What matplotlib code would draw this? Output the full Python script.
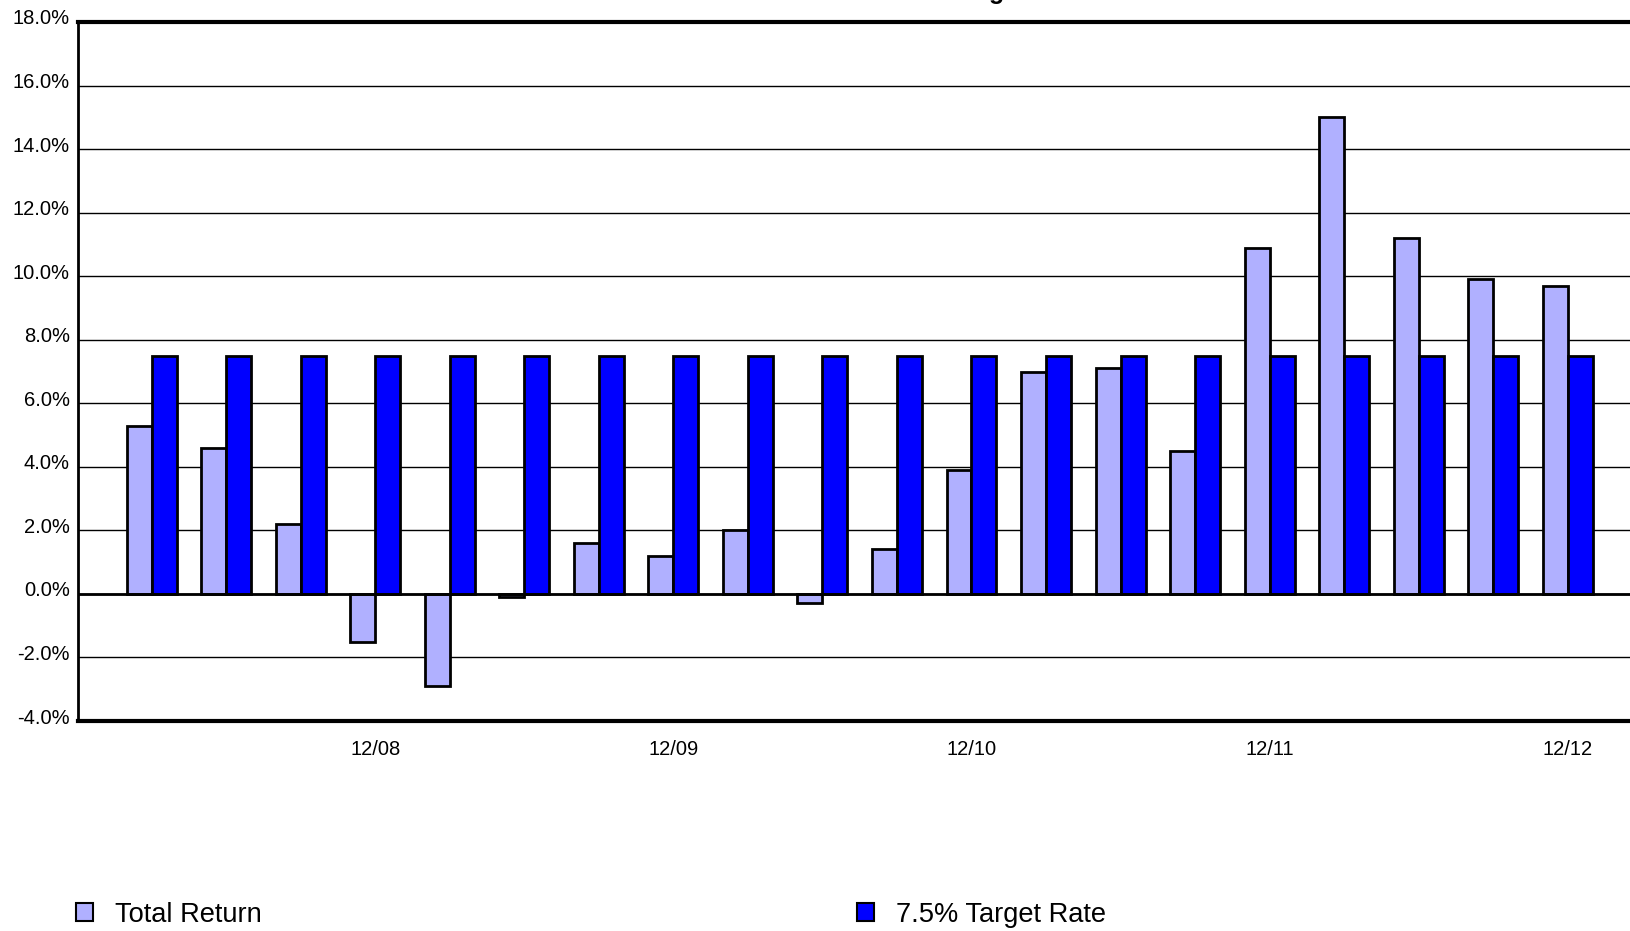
import numpy as np
import matplotlib.pyplot as plt
import matplotlib.transforms as mtransforms
from matplotlib.patches import Patch
from matplotlib.ticker import FuncFormatter, FixedLocator

plt.rcParams['font.family'] = ['Liberation Sans', 'DejaVu Sans']

# Quarterly periods, 3/08 through 12/12
quarters = ['3/08', '6/08', '9/08', '12/08', '3/09', '6/09', '9/09', '12/09',
            '3/10', '6/10', '9/10', '12/10', '3/11', '6/11', '9/11', '12/11',
            '3/12', '6/12', '9/12', '12/12']
total_return = [5.3, 4.6, 2.2, -1.5, -2.9, -0.1, 1.6, 1.2, 2.0, -0.3,
                1.4, 3.9, 7.0, 7.1, 4.5, 10.9, 15.0, 11.2, 9.9, 9.7]
target_rate = [7.5] * len(quarters)
labeled = ['12/08', '12/09', '12/10', '12/11', '12/12']

light = '#B0B0FF'
dark = '#0000FF'

fig = plt.figure(figsize=(16.31, 9.31), dpi=100)
ax = fig.add_axes([78 / 1631, 210 / 931, 1 - 78 / 1631, 699 / 931])

x = np.arange(len(quarters))
w = 0.335
ax.bar(x - w / 2, total_return, w, color=light, edgecolor='black', linewidth=2, zorder=3)
ax.bar(x + w / 2, target_rate, w, color=dark, edgecolor='black', linewidth=2, zorder=3)

ax.set_xlim(-0.99, 19.85)
ax.set_ylim(-4, 18)
ax.set_yticks(np.arange(-4, 18.1, 2))
ax.yaxis.set_major_formatter(FuncFormatter(lambda v, p: f'{v:.1f}%'))
ax.grid(axis='y', color='black', linewidth=1, zorder=1)
ax.axhline(0, color='black', linewidth=2, zorder=4)

ticks = [quarters.index(q) for q in labeled]
ax.xaxis.set_major_locator(FixedLocator(ticks))
ax.set_xticklabels(labeled)
ax.tick_params(axis='both', length=0, labelsize=14.5)
ax.tick_params(axis='x', pad=14)
ax.tick_params(axis='y', pad=6)

# nudge the y labels up so they sit on their gridlines
shift = mtransforms.ScaledTranslation(0, 5 / 100, fig.dpi_scale_trans)
for lbl in ax.get_yticklabels():
    lbl.set_transform(lbl.get_transform() + shift)

ax.spines['right'].set_visible(False)
ax.spines['top'].set_linewidth(3)
ax.spines['bottom'].set_linewidth(3)
ax.spines['left'].set_linewidth(2)

fig.text(0.547, 1 + 1 / 931, 'Total Return vs. Target', ha='center', va='baseline',
         fontsize=18, fontweight='bold')

handles = [Patch(facecolor=light, edgecolor='black', linewidth=1.5, label='Total Return'),
           Patch(facecolor=dark, edgecolor='black', linewidth=1.5, label='7.5% Target Rate')]
fig.legend(handles=handles, loc='lower left', bbox_to_anchor=(65 / 1631, -0.008),
           ncol=2, frameon=False, fontsize=19.6, handlelength=0.62, handleheight=0.62,
           handletextpad=0.8, columnspacing=21.9, borderaxespad=0)

fig.savefig('out.png', dpi=100)
